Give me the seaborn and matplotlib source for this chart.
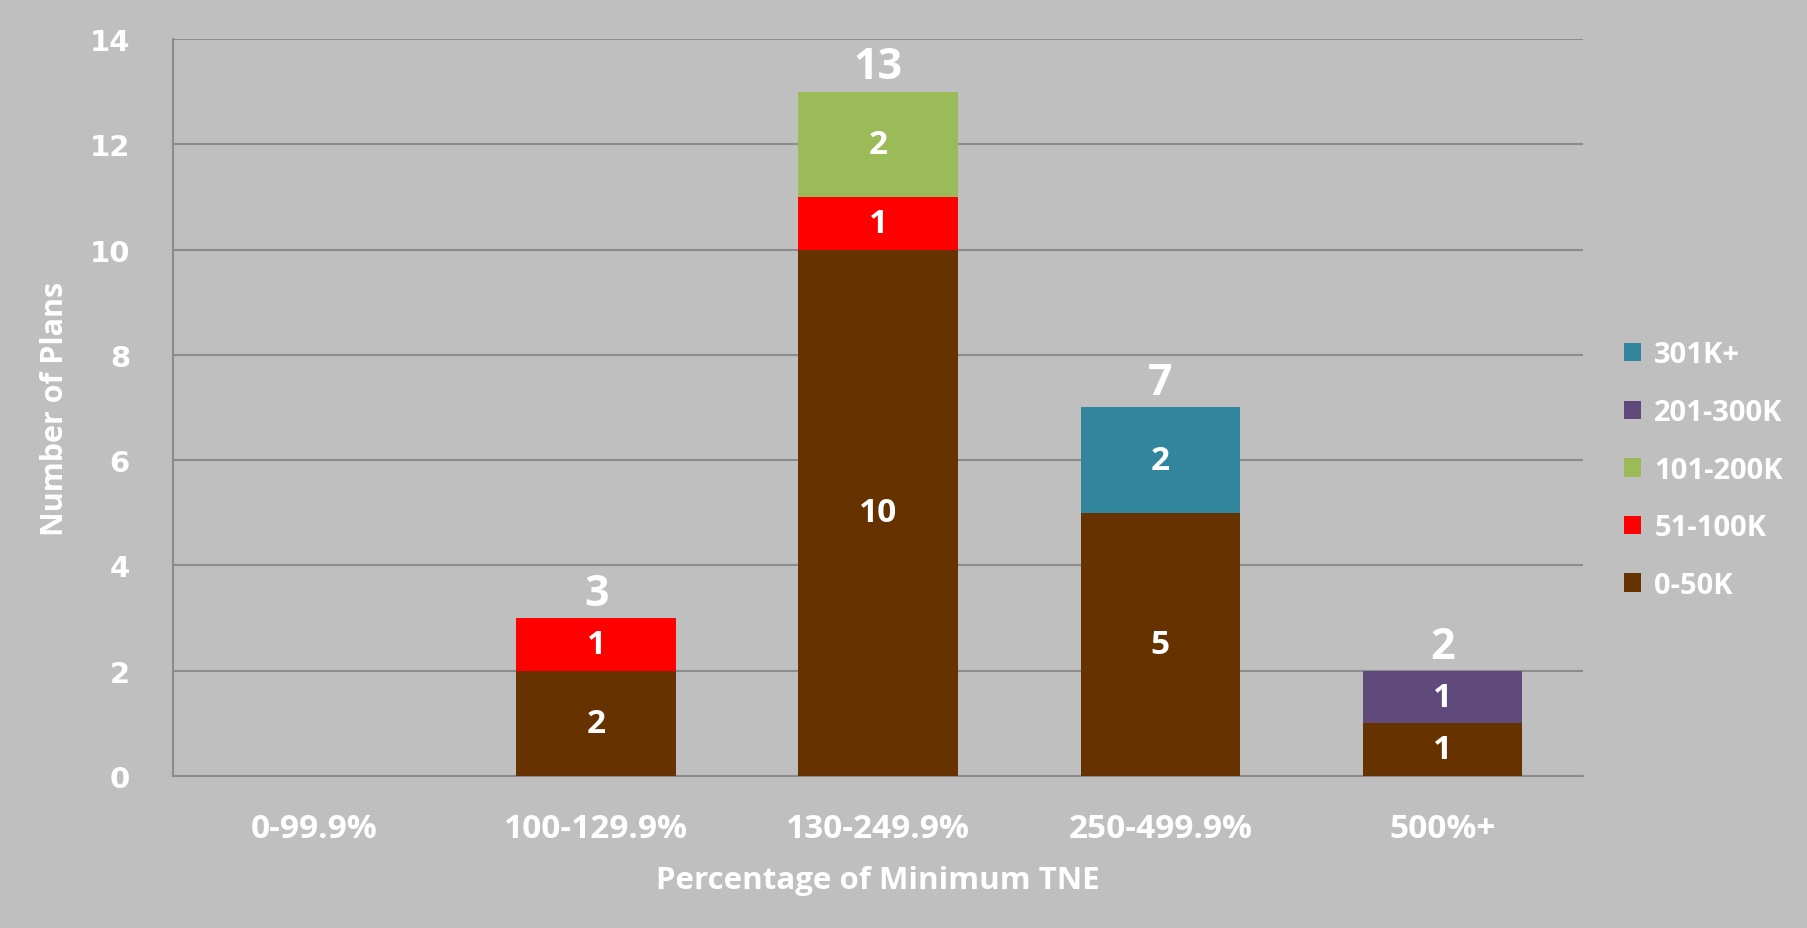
import matplotlib
matplotlib.use("Agg")
import matplotlib.pyplot as plt
import seaborn as sns
import numpy as np

# ---- data ----
categories = ["0-99.9%", "100-129.9%", "130-249.9%", "250-499.9%", "500%+"]
series_names = ["0-50K", "51-100K", "101-200K", "201-300K", "301K+"]
plans_0_50k = [0, 2, 10, 5, 1]
plans_51_100k = [0, 1, 1, 0, 0]
plans_101_200k = [0, 0, 2, 0, 0]
plans_201_300k = [0, 0, 0, 0, 1]
plans_301k_plus = [0, 0, 0, 2, 0]
series_values = [plans_0_50k, plans_51_100k, plans_101_200k, plans_201_300k, plans_301k_plus]
colors = ["#663300", "#FF0000", "#9BBB59", "#604A7B", "#31859C"]

bg = "#BFBFBF"
grid_c = "#8C8C8C"

sns.set_theme(style="white")
plt.rcParams["font.family"] = ["Open Sans", "DejaVu Sans"]

fig = plt.figure(figsize=(18.08, 9.29), dpi=100, facecolor=bg)
ax = fig.add_axes([0.0957, 0.1636, 0.78, 0.7934])
ax.set_facecolor(bg)

# stacked bars, one layer per size band
bottom = np.zeros(len(categories))
for name, vals, c in zip(series_names, series_values, colors):
    sns.barplot(x=categories, y=vals, bottom=bottom, color=c, saturation=1,
                width=0.565, ax=ax, label=name, zorder=3, linewidth=0,
                edgecolor="none")
    for i, v in enumerate(vals):
        if v > 0:
            ax.text(i, bottom[i] + v / 2, str(v), ha="center", va="center",
                    color="white", fontsize=24, fontweight="bold", zorder=4)
    bottom = bottom + np.array(vals)

# totals above bars
for i, t in enumerate(bottom):
    if t > 0:
        ax.text(i, t + 0.06, str(int(t)), ha="center", va="bottom",
                color="white", fontsize=31, fontweight="bold")

ax.set_xlim(-0.5, 4.5)
ax.set_ylim(0, 14)
ax.set_yticks(range(0, 15, 2))
ax.yaxis.grid(True, color=grid_c, linewidth=1.5, zorder=0)
ax.set_axisbelow(True)

for s in ["top", "right"]:
    ax.spines[s].set_visible(False)
for s in ["left", "bottom"]:
    ax.spines[s].set_color(grid_c)
    ax.spines[s].set_linewidth(1.5)

ax.tick_params(axis="y", length=13, width=1.5, color=grid_c, pad=18,
               labelcolor="white", labelsize=21)
for lab in ax.get_yticklabels():
    lab.set_fontfamily("DejaVu Sans")
    lab.set_fontweight("bold")
ax.set_xticks(np.arange(-0.5, 5, 1), minor=True)
ax.tick_params(axis="x", which="minor", length=12, width=1.5, color=grid_c)
ax.tick_params(axis="x", which="major", length=0, pad=26,
               labelcolor="white", labelsize=24)
for lab in ax.get_xticklabels():
    lab.set_fontweight("bold")

ax.set_xlabel("Percentage of Minimum TNE", color="white", fontsize=22.5,
              fontweight="bold", labelpad=14)
ax.set_ylabel("Number of Plans", color="white", fontsize=22,
              fontweight="bold", labelpad=14)

h, l = ax.get_legend_handles_labels()
leg = ax.legend(h[::-1], l[::-1], loc="center left", bbox_to_anchor=(1.01, 0.415),
                frameon=False, fontsize=21, handlelength=0.6, handleheight=0.6,
                labelspacing=0.98, handletextpad=0.45)
for t in leg.get_texts():
    t.set_color("white")
    t.set_fontweight("bold")

fig.savefig("out.png", dpi=100, facecolor=bg)
